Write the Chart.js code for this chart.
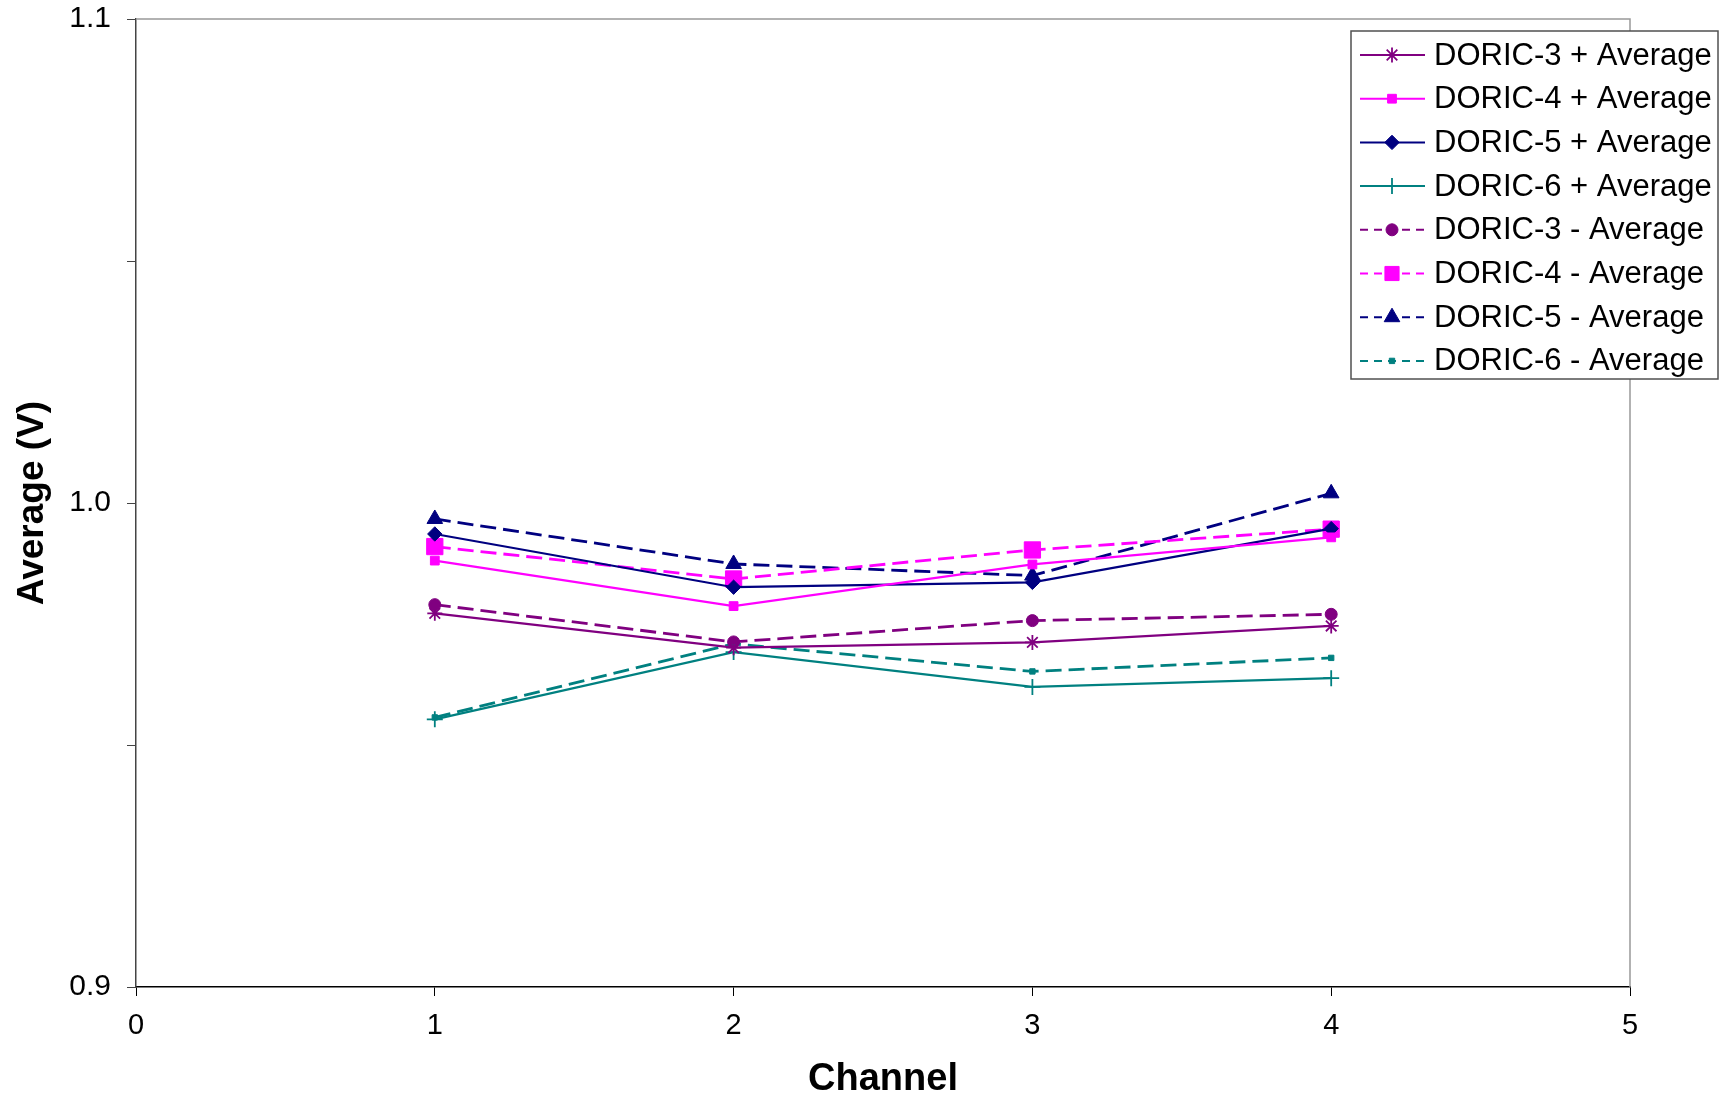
<!DOCTYPE html>
<html>
<head>
<meta charset="utf-8">
<script src="https://cdn.jsdelivr.net/npm/chart.js@4.4.0/dist/chart.umd.min.js"></script>
<style>
  body { margin: 0; background: #fff; }
  #wrap { width: 1734px; height: 1100px; }
</style>
</head>
<body>
<div id="wrap"><canvas id="avgChart" width="1734" height="1100"></canvas></div>
<script>
// Channel numbers (x) and averages per DORIC chip
const channels = [1, 2, 3, 4];
const doric3Plus  = [0.9772, 0.9701, 0.9712, 0.9746];
const doric4Plus  = [0.9881, 0.9787, 0.9873, 0.9929];
const doric5Plus  = [0.9936, 0.9826, 0.9836, 0.9947];
const doric6Plus  = [0.9553, 0.9692, 0.9620, 0.9638];
const doric3Minus = [0.9790, 0.9713, 0.9757, 0.9770];
const doric4Minus = [0.9910, 0.9843, 0.9903, 0.9946];
const doric5Minus = [0.9967, 0.9874, 0.9850, 1.0020];
const doric6Minus = [0.9557, 0.9709, 0.9652, 0.9680];

const PURPLE = '#800080', MAGENTA = '#ff00ff', NAVY = '#000080', TEAL = '#008080';
const FONT = "'Liberation Sans', Arial, sans-serif";

const toPoints = vals => channels.map((c, i) => ({ x: c, y: vals[i] }));

function series(label, vals, color, dashed, style, radius, bw) {
  return {
    label,
    data: toPoints(vals),
    borderColor: color,
    backgroundColor: color,
    borderWidth: dashed ? 2.8 : 2.2,
    borderDash: dashed ? [16, 7] : [],
    pointStyle: style,
    pointRadius: radius,
    pointBorderWidth: bw,
    pointBackgroundColor: color,
    pointBorderColor: color,
    showLine: true,
    tension: 0
  };
}

const datasets = [
  series('DORIC-3 + Average', doric3Plus, PURPLE, false, 'star', 7.5, 1.8),
  series('DORIC-4 + Average', doric4Plus, MAGENTA, false, 'rect', 6.2, 1),
  series('DORIC-5 + Average', doric5Plus, NAVY, false, 'rectRot', 7.2, 1),
  series('DORIC-6 + Average', doric6Plus, TEAL, false, 'cross', 8, 1.8),
  series('DORIC-3 - Average', doric3Minus, PURPLE, true, 'circle', 6, 1),
  series('DORIC-4 - Average', doric4Minus, MAGENTA, true, 'rect', 11.5, 1),
  series('DORIC-5 - Average', doric5Minus, NAVY, true, 'triangle', 9, 1),
  series('DORIC-6 - Average', doric6Minus, TEAL, true, 'rect', 3.8, 1)
];

// top and right edges of the plot area in grey
const frame = {
  id: 'frame',
  beforeDatasetsDraw(chart) {
    const { ctx, chartArea: a } = chart;
    ctx.save();
    ctx.strokeStyle = '#999999';
    ctx.lineWidth = 1.5;
    ctx.beginPath();
    ctx.moveTo(a.left, a.top);
    ctx.lineTo(a.right, a.top);
    ctx.lineTo(a.right, a.bottom);
    ctx.stroke();
    ctx.restore();
  }
};

// boxed legend overlapping the top right corner, like the original
const boxLegend = {
  id: 'boxLegend',
  afterDraw(chart) {
    const ctx = chart.ctx;
    const box = { x: 1351, y: 31, w: 367, h: 348 };
    const rowH = 43.7, firstRow = 55;
    ctx.save();
    ctx.fillStyle = '#ffffff';
    ctx.fillRect(box.x, box.y, box.w, box.h);
    ctx.strokeStyle = '#505050';
    ctx.lineWidth = 1.5;
    ctx.strokeRect(box.x, box.y, box.w, box.h);
    chart.data.datasets.forEach((ds, i) => {
      const y = firstRow + i * rowH;
      ctx.strokeStyle = ds.borderColor;
      ctx.lineWidth = 2;
      ctx.setLineDash(ds.borderDash.length ? [8, 6] : []);
      ctx.beginPath();
      ctx.moveTo(1360, y);
      ctx.lineTo(1425, y);
      ctx.stroke();
      ctx.setLineDash([]);
      ctx.fillStyle = ds.pointBackgroundColor;
      ctx.strokeStyle = ds.pointBorderColor;
      ctx.lineWidth = ds.pointBorderWidth;
      Chart.helpers.drawPoint(ctx, {
        pointStyle: ds.pointStyle,
        radius: Math.min(ds.pointRadius, 10),
        borderWidth: ds.pointBorderWidth,
        rotation: 0
      }, 1392, y);
      ctx.fillStyle = '#000000';
      ctx.font = '31px ' + FONT;
      ctx.textBaseline = 'middle';
      ctx.textAlign = 'left';
      ctx.fillText(ds.label, 1434, y + 1);
    });
    ctx.restore();
  }
};

new Chart(document.getElementById('avgChart'), {
  type: 'scatter',
  data: { datasets },
  plugins: [frame, boxLegend],
  options: {
    responsive: false,
    animation: false,
    layout: { padding: { top: 19, right: 104, bottom: 0, left: 0 } },
    plugins: { legend: { display: false }, tooltip: { enabled: false } },
    scales: {
      x: {
        type: 'linear',
        min: 0,
        max: 5,
        ticks: { stepSize: 1, color: '#000', padding: 13, font: { family: FONT, size: 29 } },
        grid: { drawOnChartArea: false, drawTicks: true, tickLength: 9, color: '#000' },
        border: { color: '#000', width: 1.5 },
        title: {
          display: true,
          text: 'Channel',
          color: '#000',
          padding: { top: 0, bottom: 0 },
          font: { family: FONT, size: 38, weight: 'bold', lineHeight: 1.1 }
        },
        afterFit(scale) { scale.height = 113; }
      },
      y: {
        min: 0.9,
        max: 1.1,
        ticks: {
          stepSize: 0.05,
          color: '#000',
          padding: 16,
          font: { family: FONT, size: 30 },
          callback(v) {
            const tenth = Math.round(v * 10);
            return Math.abs(v * 10 - tenth) < 1e-6 ? (tenth / 10).toFixed(1) : '';
          }
        },
        grid: { drawOnChartArea: false, drawTicks: true, tickLength: 9, color: '#444' },
        border: { color: '#444', width: 1.5 },
        title: {
          display: true,
          text: 'Average (V)',
          color: '#000',
          padding: { top: 11, bottom: 0 },
          font: { family: FONT, size: 37, weight: 'bold' }
        },
        afterFit(scale) {
          scale.width = 136;
          // let the layout padding alone decide where the plot starts
          scale.paddingTop = 0;
          scale.paddingBottom = 0;
        }
      }
    }
  }
});
</script>
</body>
</html>
